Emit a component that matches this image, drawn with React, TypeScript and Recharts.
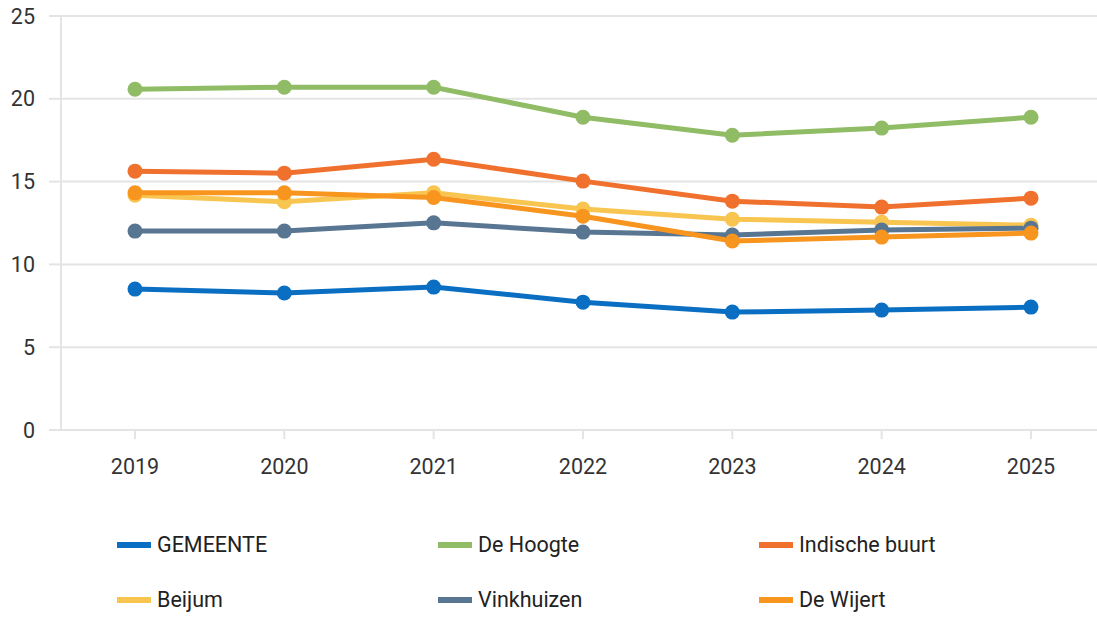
import React from 'react';
import {CartesianGrid, Legend, Line, LineChart, XAxis, YAxis} from 'recharts';

const years = ['2019', '2020', '2021', '2022', '2023', '2024', '2025'];
const yTicks = [0, 5, 10, 15, 20, 25];

const gemeente = [8.51, 8.27, 8.63, 7.72, 7.12, 7.24, 7.42];
const deHoogte = [20.58, 20.7, 20.7, 18.89, 17.8, 18.23, 18.89];
const indischeBuurt = [15.63, 15.51, 16.35, 15.03, 13.82, 13.46, 14.0];
const beijum = [14.18, 13.78, 14.32, 13.34, 12.73, 12.55, 12.37];
const vinkhuizen = [12.01, 12.01, 12.51, 11.95, 11.77, 12.07, 12.19];
const deWijert = [14.32, 14.32, 14.04, 12.91, 11.41, 11.65, 11.89];

const series = [
  {key: 'GEMEENTE', values: gemeente, color: '#0a6fc2'},
  {key: 'De Hoogte', values: deHoogte, color: '#8fbc64'},
  {key: 'Indische buurt', values: indischeBuurt, color: '#f0712e'},
  {key: 'Beijum', values: beijum, color: '#f9c551'},
  {key: 'Vinkhuizen', values: vinkhuizen, color: '#587592'},
  {key: 'De Wijert', values: deWijert, color: '#f7951f'},
];

const data = years.map((year, i) => {
  const row: any = {year};
  series.forEach(s => { row[s.key] = s.values[i]; });
  return row;
});

const FONT = 'Roboto, sans-serif';

function renderLegend() {
  return (
    <div style={{
      display: 'grid',
      gridTemplateColumns: '321px 321px 321px',
      paddingLeft: 117,
      paddingTop: 20,
      fontFamily: FONT,
    }}>
      {series.map(s => (
        <div key={s.key} style={{display: 'flex', alignItems: 'center', height: 55}}>
          <span style={{display: 'inline-block', width: 34, height: 6, background: s.color, marginRight: 6}}/>
          <span style={{fontSize: 21.5, color: '#222'}}>{s.key}</span>
        </div>
      ))}
    </div>
  );
}

export default function App() {
  return (
    <div style={{position: 'fixed', left: 0, top: 0, width: 1097, height: 617, overflow: 'hidden', background: '#fff'}}>
      <LineChart
        width={1107}
        height={617}
        data={data}
        margin={{top: 16, right: 0, left: 0, bottom: 0}}
        style={{overflow: 'visible'}}
      >
        <CartesianGrid vertical={false} stroke="#e4e4e4" strokeWidth={2}/>
        <XAxis
          dataKey="year"
          padding={{left: 74, right: 76}}
          stroke="#e4e4e4"
          strokeWidth={2}
          tickSize={9}
          tickMargin={20}
          height={67}
          tick={{fill: '#333', fontSize: 21.5, fontFamily: FONT}}
        />
        <YAxis
          domain={[0, 25]}
          ticks={yTicks}
          width={61}
          stroke="#e4e4e4"
          strokeWidth={2}
          tickSize={12}
          tickMargin={14}
          tick={{fill: '#333', fontSize: 21.5, fontFamily: FONT}}
        />
        <Legend
          verticalAlign="bottom"
          content={renderLegend}
          wrapperStyle={{height: 120, width: 1097, left: 0}}
        />
        {series.map(s => (
          <Line
            key={s.key}
            dataKey={s.key}
            stroke={s.color}
            strokeWidth={5}
            dot={{r: 7.5, fill: s.color, stroke: s.color, strokeWidth: 0}}
            activeDot={false}
            isAnimationActive={false}
          />
        ))}
      </LineChart>
    </div>
  );
}
